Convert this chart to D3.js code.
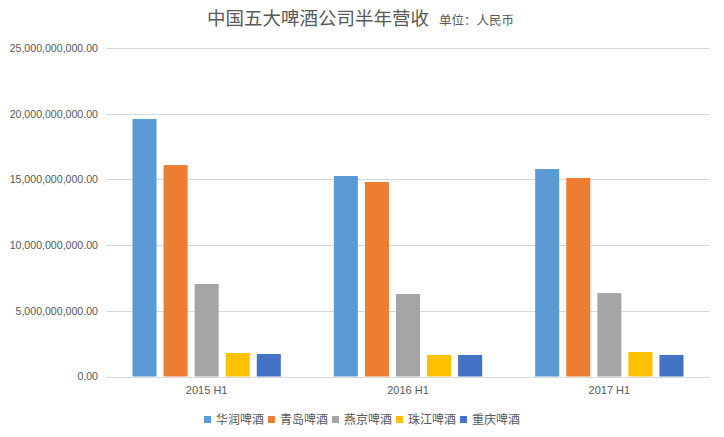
<!DOCTYPE html>
<html>
<head>
<meta charset="utf-8">
<script src="https://cdn.jsdelivr.net/npm/d3@7"></script>
<style>
  html, body { margin: 0; padding: 0; background: #fff; }
  #chart { width: 724px; height: 437px; }
</style>
</head>
<body>
<div id="chart"></div>
<script>
// half-year revenue, RMB
var periods = ['2015 H1', '2016 H1', '2017 H1'];
var companies = ['华润啤酒', '青岛啤酒', '燕京啤酒', '珠江啤酒', '重庆啤酒'];
var huarun   = [19.60e9, 15.26e9, 15.79e9];
var qingdao  = [16.09e9, 14.80e9, 15.11e9];
var yanjing  = [7.04e9, 6.28e9, 6.35e9];
var zhujiang = [1.79e9, 1.64e9, 1.86e9];
var chongqing = [1.71e9, 1.64e9, 1.64e9];
var yTicks = [0, 5e9, 10e9, 15e9, 20e9, 25e9];
var colors = ['#5B9BD5', '#ED7D31', '#A5A5A5', '#FFC000', '#4472C4'];

var seriesValues = [huarun, qingdao, yanjing, zhujiang, chongqing];

var width = 724, height = 437;
var margin = {top: 48, right: 14, bottom: 61, left: 106};
var fontCn = '"Noto Sans CJK SC", "Microsoft YaHei", sans-serif';
var fontNum = '"Liberation Sans", Arial, sans-serif';

var svg = d3.select('#chart').append('svg')
    .attr('width', width)
    .attr('height', height);

var x0 = d3.scaleBand()
    .domain(periods)
    .range([margin.left, width - margin.right])
    .paddingInner(0)
    .paddingOuter(0);

var x1 = d3.scaleBand()
    .domain(companies)
    .range([26.5, x0.bandwidth() - 26.5])
    .paddingInner(0.226)
    .paddingOuter(0);

var y = d3.scaleLinear()
    .domain([0, 25e9])
    .range([height - margin.bottom + 0.5, margin.top]);

// gridlines
var grid = svg.append('g');
grid.selectAll('line')
    .data(yTicks)
    .enter().append('line')
    .attr('x1', margin.left)
    .attr('x2', width - margin.right)
    .attr('y1', d => Math.round(y(d)) + 0.5)
    .attr('y2', d => Math.round(y(d)) + 0.5)
    .attr('stroke', '#d9d9d9')
    .attr('stroke-width', 1);

// y axis labels
var yAxis = d3.axisLeft(y)
    .tickValues(yTicks)
    .tickSize(0)
    .tickPadding(0)
    .tickFormat(d3.format(',.2f'));
svg.append('g')
    .attr('transform', 'translate(' + 98 + ',0)')
    .call(yAxis)
    .call(g => g.select('.domain').remove())
    .selectAll('text')
    .style('font-family', fontNum)
    .style('font-size', '10.6px')
    .style('fill', '#595959');

// bars
var groups = svg.append('g').selectAll('g')
    .data(periods)
    .enter().append('g')
    .attr('transform', d => 'translate(' + x0(d) + ',0)');

groups.selectAll('rect')
    .data((p, i) => companies.map((c, j) => ({company: c, value: seriesValues[j][i], idx: j})))
    .enter().append('rect')
    .attr('x', d => x1(d.company))
    .attr('width', x1.bandwidth())
    .attr('y', d => y(d.value))
    .attr('height', d => y(0) - y(d.value))
    .attr('fill', d => colors[d.idx]);

// x axis line
svg.append('line')
    .attr('x1', margin.left)
    .attr('x2', width - margin.right)
    .attr('y1', Math.round(y(0)) + 0.5)
    .attr('y2', Math.round(y(0)) + 0.5)
    .attr('stroke', '#d9d9d9')
    .attr('stroke-width', 1);

// category labels
var xAxis = d3.axisBottom(x0).tickSize(0).tickPadding(0);
svg.append('g')
    .attr('transform', 'translate(0,' + 386 + ')')
    .call(xAxis)
    .call(g => g.select('.domain').remove())
    .selectAll('text')
    .style('font-family', fontNum)
    .style('font-size', '11px')
    .style('fill', '#595959');

// title
var title = svg.append('text')
    .attr('x', 207)
    .attr('y', 25)
    .style('font-family', fontCn)
    .style('fill', '#595959');
title.append('tspan')
    .style('font-size', '18.5px')
    .text('中国五大啤酒公司半年营收');
title.append('tspan')
    .attr('dx', 10)
    .style('font-size', '12.5px')
    .text('单位：人民币');

// legend
var legend = svg.append('g')
    .attr('transform', 'translate(204,420)');
var item = legend.selectAll('g')
    .data(companies)
    .enter().append('g')
    .attr('transform', (d, i) => 'translate(' + (i * 64) + ',0)');
item.append('rect')
    .attr('x', 0)
    .attr('y', -4)
    .attr('width', 7)
    .attr('height', 7)
    .attr('fill', (d, i) => colors[i]);
item.append('text')
    .attr('x', 12)
    .attr('y', 0)
    .attr('dy', '0.35em')
    .text(d => d)
    .style('font-family', fontCn)
    .style('font-size', '12px')
    .style('fill', '#595959');
</script>
</body>
</html>
